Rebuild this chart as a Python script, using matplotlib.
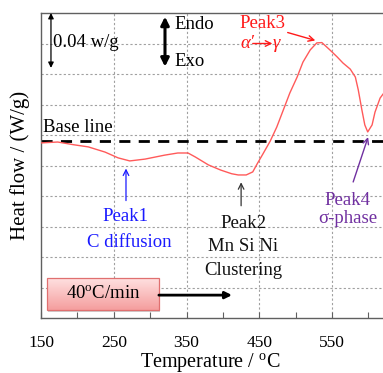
import matplotlib
matplotlib.use("Agg")
import matplotlib.pyplot as plt
import numpy as np
from matplotlib.patches import FancyBboxPatch

plt.rcParams['font.family'] = ['Liberation Serif', 'DejaVu Serif']
plt.rcParams['mathtext.fontset'] = 'custom'
plt.rcParams['mathtext.rm'] = 'Liberation Serif'
plt.rcParams['mathtext.it'] = 'Liberation Serif:italic'

# ---- data ----
temperature = [150, 173, 195, 215, 238, 256, 272, 293, 320, 338, 352, 362, 380, 397,
               412, 421, 432, 441, 447, 455, 465, 474, 483, 492, 502, 510, 520, 529,
               536, 547, 557, 565, 575, 582, 586, 591, 595, 599, 605, 609, 616, 620]
heat_flow = [5.74, 5.77, 5.68, 5.61, 5.44, 5.25, 5.15, 5.21, 5.34, 5.41, 5.41, 5.28,
             5.02, 4.85, 4.73, 4.69, 4.69, 4.79, 5.05, 5.38, 5.80, 6.26, 6.82, 7.38,
             7.90, 8.39, 8.79, 9.02, 9.03, 8.79, 8.56, 8.36, 8.16, 7.90, 7.48, 6.82,
             6.33, 6.10, 6.33, 6.75, 7.21, 7.34]
baseline_level = 5.80
x_ticklabels = [150, 250, 350, 450, 550]

fig = plt.figure(figsize=(3.83, 3.73), dpi=100)
ax = fig.add_axes([41/383, 1-318/373, 1-41/383, (318-13)/373])

ax.set_xlim(150, 620)
ax.set_ylim(0, 10)

# grid
for xv in [250, 350, 450, 550]:
    ax.axvline(xv, color='#a0a0a0', lw=0.8, ls=(0, (2, 2)), zorder=0)
for yv in range(1, 10):
    ax.axhline(yv, color='#a0a0a0', lw=0.8, ls=(0, (2, 2)), zorder=0)

ax.set_xticks(x_ticklabels)
ax.set_xticklabels([str(v) for v in x_ticklabels], fontsize=12.5)
ax.set_xticks(np.arange(200, 620, 100), minor=True)
ax.tick_params(axis='x', which='both', direction='in', length=4, width=0.8,
               color='#606060', pad=12)
ax.set_yticks([])
for s in ['left', 'bottom', 'top']:
    ax.spines[s].set_color('#606060')
    ax.spines[s].set_linewidth(1.0)
ax.spines['right'].set_visible(False)

ax.set_xlabel(r'Temperature / $^{\rm o}$C', fontsize=14.5)
ax.xaxis.label.set_va('center')
ax.xaxis.set_label_coords(0.494, -0.146)
ax.set_ylabel('Heat flow / (W/g)', fontsize=15, labelpad=8)

# curve & baseline
ax.plot(temperature, heat_flow, color='#ff5a5a', lw=1.0, zorder=3)
ax.axhline(baseline_level, color='black', lw=2, ls=(0, (4, 3)), zorder=2)
ax.text(152.5, 6.26, 'Base line', fontsize=13.5, va='center', ha='left')

# scale arrow
ax.annotate('', xy=(163.7, 10.0), xytext=(163.7, 8.2),
            arrowprops=dict(arrowstyle='<|-|>', color='black', lw=0.9,
                            mutation_scale=8, shrinkA=0, shrinkB=0))
ax.text(166, 9.02, '0.04 w/g', fontsize=13.5, va='center', ha='left')

# Endo / Exo arrow
ax.annotate('', xy=(320.4, 9.88), xytext=(320.4, 8.24),
            arrowprops=dict(arrowstyle='<|-|>', color='black', lw=2.2,
                            mutation_scale=12, shrinkA=0, shrinkB=0))
ax.text(333, 9.62, 'Endo', fontsize=13.5, va='center', ha='left')
ax.text(333, 8.4, 'Exo', fontsize=13.5, va='center', ha='left')

# Peak 3
red = '#ff1a1a'
ax.text(423, 9.67, 'Peak3', fontsize=13.5, va='center', ha='left', color=red)
ax.text(424, 9.0, 'α′', fontsize=13.5, va='center', ha='left', color=red,
        style='italic')
ax.annotate('', xy=(468, 9.0), xytext=(441, 9.0),
            arrowprops=dict(arrowstyle='->', color=red, lw=1.0, shrinkA=0, shrinkB=0))
ax.text(469, 9.0, 'γ', fontsize=13.5, va='center', ha='left', color=red,
        style='italic')
ax.annotate('', xy=(527, 9.1), xytext=(489, 9.36),
            arrowprops=dict(arrowstyle='->', color=red, lw=1.0, shrinkA=0, shrinkB=0))

# Peak 1
blue = '#1a1aff'
ax.annotate('', xy=(266.8, 4.90), xytext=(266.8, 3.85),
            arrowprops=dict(arrowstyle='->', color=blue, lw=0.9, shrinkA=0, shrinkB=0))
ax.text(265.5, 3.34, 'Peak1', fontsize=13.5, ha='center', va='center', color=blue)
ax.text(272, 2.49, 'C diffusion', fontsize=13.5, ha='center', va='center', color=blue)

# Peak 2
ax.annotate('', xy=(425, 4.45), xytext=(425, 3.68),
            arrowprops=dict(arrowstyle='->', color='#333333', lw=0.9, shrinkA=0, shrinkB=0))
ax.text(427.7, 3.11, 'Peak2', fontsize=13.5, ha='center', va='center', color='#111111')
ax.text(427.7, 2.33, 'Mn Si Ni', fontsize=13.5, ha='center', va='center', color='#111111')
ax.text(427.7, 1.57, 'Clustering', fontsize=13.5, ha='center', va='center', color='#111111')

# Peak 4
purple = '#7030a0'
ax.annotate('', xy=(599.5, 5.93), xytext=(579, 4.46),
            arrowprops=dict(arrowstyle='->', color=purple, lw=1.0, shrinkA=0, shrinkB=0))
ax.text(571, 3.84, 'Peak4', fontsize=13.5, ha='center', va='center', color=purple)
ax.text(572, 3.25, 'σ-phase', fontsize=13.5, ha='center', va='center', color=purple)

# heating-rate box with gradient
bx0, bx1, by0, by1 = 158.5, 312, 0.27, 1.31
shadow = FancyBboxPatch((bx0 + 1.5, by0 - 0.06), bx1 - bx0, by1 - by0,
                        boxstyle='square,pad=0', facecolor='#b0b0b0', edgecolor='none',
                        alpha=0.6, zorder=4)
ax.add_patch(shadow)
box = FancyBboxPatch((bx0, by0), bx1 - bx0, by1 - by0, boxstyle='square,pad=0',
                     facecolor='none', edgecolor='#e07070', lw=0.9, zorder=6)
ax.add_patch(box)
grad = np.linspace(0, 1, 64).reshape(-1, 1)
top_c = np.array([1.0, 0.88, 0.88])
bot_c = np.array([0.96, 0.62, 0.62])
img = top_c[None, None, :] * (1 - grad[:, :, None]) + bot_c[None, None, :] * grad[:, :, None]
im = ax.imshow(img, extent=(bx0, bx1, by0, by1), origin='upper', aspect='auto', zorder=5)
im.set_clip_path(box)
ax.text((bx0 + bx1) / 2, (by0 + by1) / 2, r'40$^{\rm o}$C/min', fontsize=13.5,
        ha='center', va='center', zorder=7)
ax.annotate('', xy=(412.5, 0.75), xytext=(312, 0.75),
            arrowprops=dict(arrowstyle='-|>', color='black', lw=2.0,
                            mutation_scale=10, shrinkA=0, shrinkB=0), zorder=7)

ax.set_xlim(150, 620)
ax.set_ylim(0, 10)
fig.savefig('out.png', dpi=100)
